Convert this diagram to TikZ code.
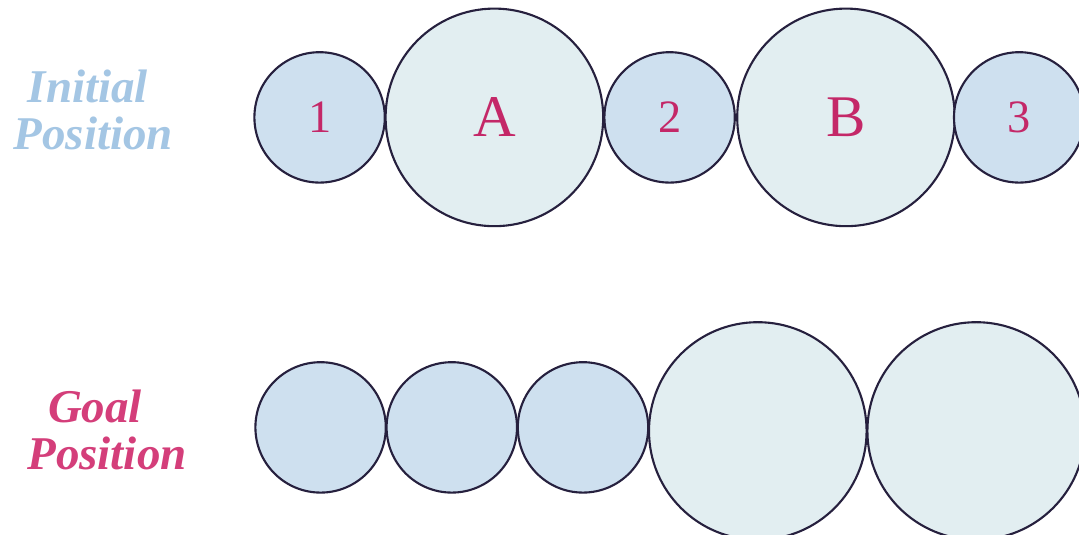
\documentclass[tikz,border=0pt]{standalone}
\usepackage{fontspec}
\setmainfont{Liberation Serif}
\definecolor{initblue}{RGB}{164,198,228}
\definecolor{goalpink}{RGB}{212,62,122}
\definecolor{labelpink}{RGB}{196,40,104}
\definecolor{smallfill}{RGB}{206,224,239}
\definecolor{bigfill}{RGB}{226,238,241}
\definecolor{rim}{RGB}{38,32,62}
\begin{document}
\begin{tikzpicture}[line join=round, line cap=round,
  ball/.style={circle, draw=rim, line width=1.5pt, inner sep=0pt, text=labelpink},
  smallball/.style={ball, fill=smallfill, minimum size=3.26cm, font=\fontsize{33}{33}\selectfont},
  bigball/.style={ball, fill=bigfill, minimum size=5.44cm, font=\fontsize{42}{42}\selectfont},
  caption/.style={anchor=base, font=\fontsize{33.4}{40}\selectfont\bfseries\itshape}]
\clip (0,0) rectangle (26.975,13.375);
\fill[white] (0,0) rectangle (26.975,13.375);
% initial position
\node[caption, text=initblue] (initA) at (2.2,10.8) {Initial};
\node[caption, text=initblue] (initB) at (2.33,9.625) {Position};
\node[smallball] (i1) at (7.99,10.44) {1};
\node[bigball] (iA) at (12.36,10.44) {A};
\node[smallball] (i2) at (16.74,10.44) {2};
\node[bigball] (iB) at (21.15,10.44) {B};
\node[smallball] (i3) at (25.48,10.44) {3};
% goal position
\node[caption, text=goalpink] (goalA) at (2.375,2.8) {Goal};
\node[caption, text=goalpink] (goalB) at (2.675,1.625) {Position};
\foreach \n/\cx in {1/8.015,2/11.295,3/14.575}{\node[smallball] (g\n) at (\cx,2.69) {};}
\foreach \n/\cx in {A/18.945,B/24.405}{\node[bigball] (g\n) at (\cx,2.6) {};}
\end{tikzpicture}
\end{document}
